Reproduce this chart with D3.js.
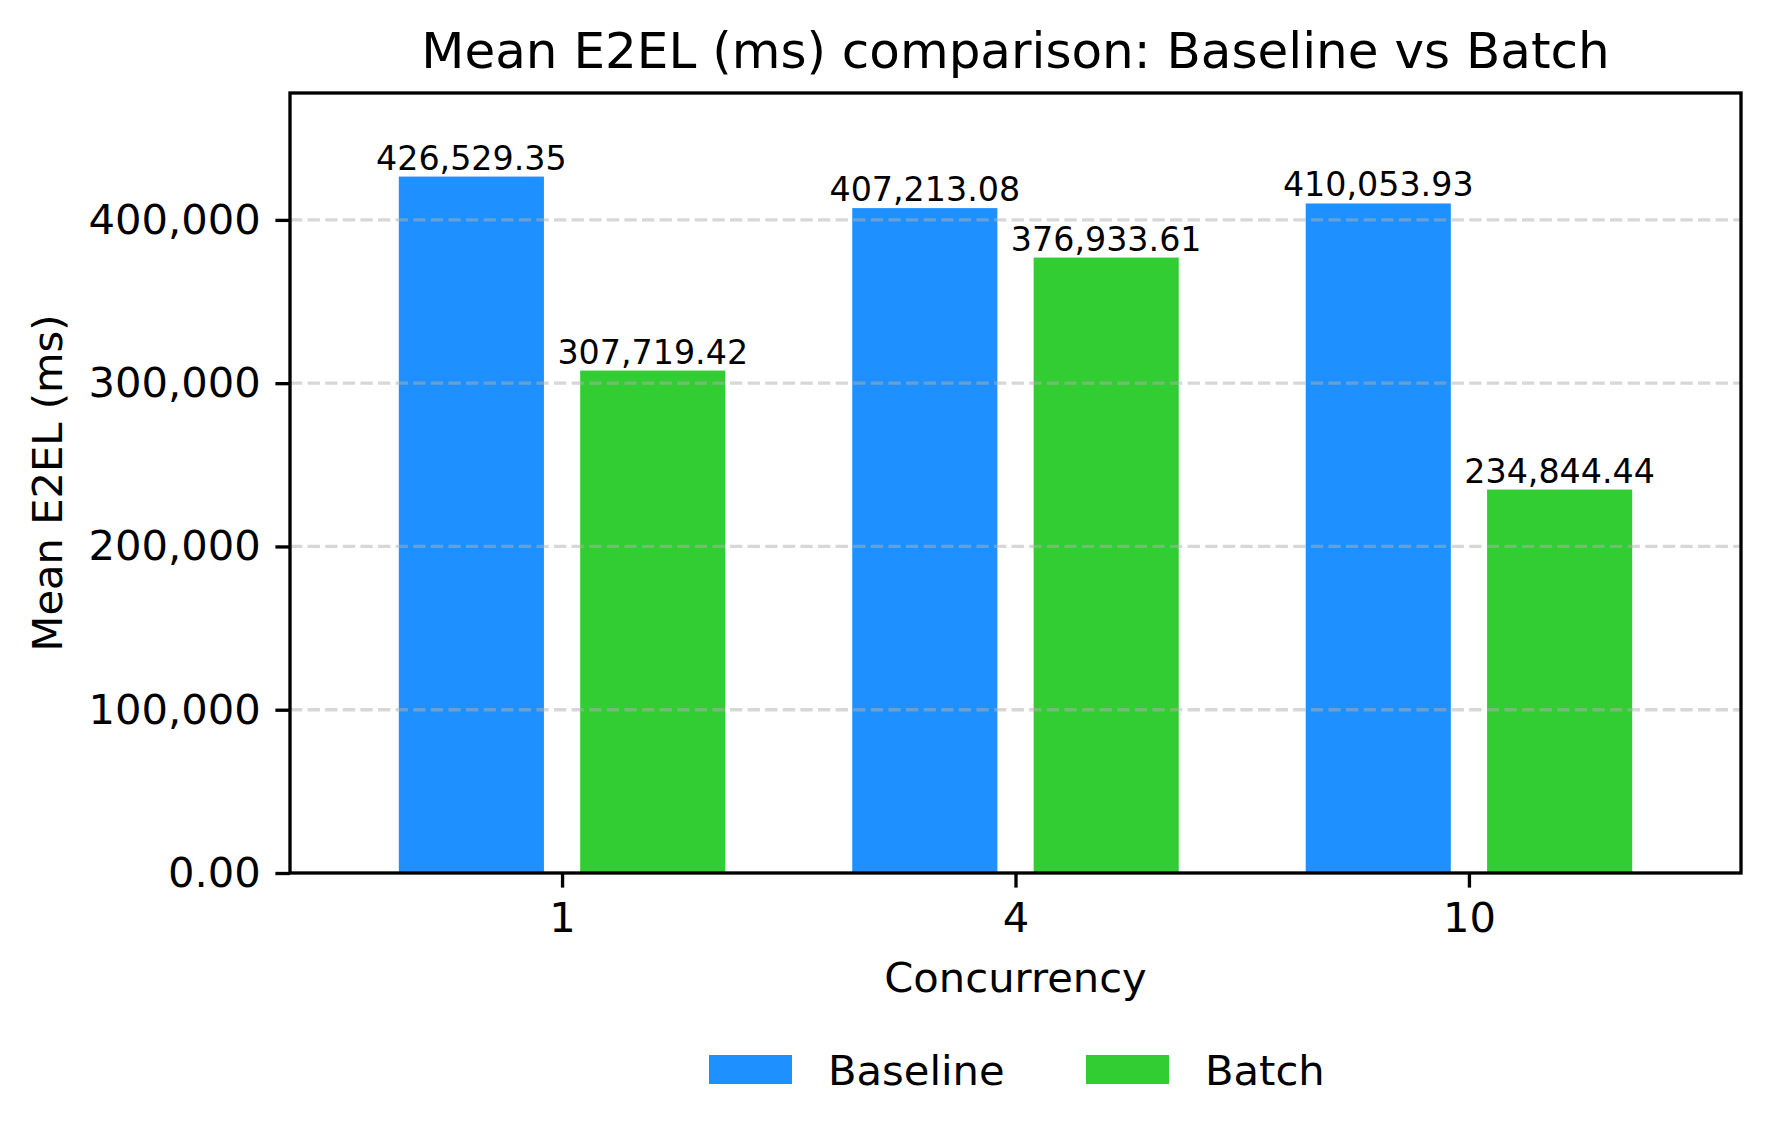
<!DOCTYPE html>
<meta charset="utf-8" />
<script src="https://d3js.org/d3.v7.min.js"></script>
<style>
  body { margin: 0; background: #fff; }
  text { font-family: "DejaVu Sans", sans-serif; fill: #000; }
</style>
<svg id="chart" width="1771" height="1140"></svg>
<script>
  // data
  var concurrency = ["1", "4", "10"];
  var seriesNames = ["Baseline", "Batch"];
  var baseline = [426529.35, 407213.08, 410053.93];
  var batch = [307719.42, 376933.61, 234844.44];
  var yTicks = [0, 100000, 200000, 300000, 400000];
  var colors = ["#1e90ff", "#32cd32"];

  var svg = d3.select("#chart");
  var margin = { left: 290, top: 93, right: 1741, bottom: 873 };
  var lw = 3.33, tickLen = 14.6;

  // x is a linear index scale so the padding matches matplotlib's auto margins
  var x = d3.scaleLinear().domain([-0.6, 2.6]).range([margin.left, margin.right]);
  var y = d3.scaleLinear().domain([0, 426529.35 * 1.12]).range([margin.bottom, margin.top]);
  var barW = x(0.32) - x(0);
  var offsets = [-0.2, 0.2];
  var series = [baseline, batch];

  // bars
  series.forEach(function (vals, s) {
    svg.append("g").selectAll("rect")
      .data(vals)
      .enter()
      .append("rect")
      .attr("x", function (d, i) { return x(i + offsets[s]) - barW / 2; })
      .attr("y", function (d) { return y(d); })
      .attr("width", barW)
      .attr("height", function (d) { return y(0) - y(d); })
      .attr("fill", colors[s]);
  });

  // grid sits on top of the bars, semi transparent
  svg.append("g").selectAll("line")
    .data(yTicks.slice(1))
    .enter()
    .append("line")
    .attr("x1", margin.left).attr("x2", margin.right)
    .attr("y1", function (d) { return y(d); })
    .attr("y2", function (d) { return y(d); })
    .attr("stroke", "#b0b0b0")
    .attr("stroke-opacity", 0.5)
    .attr("stroke-width", lw)
    .attr("stroke-dasharray", "12.3 5.3");

  // value labels
  var fmt = d3.format(",.2f");
  series.forEach(function (vals, s) {
    svg.append("g").selectAll("text")
      .data(vals)
      .enter()
      .append("text")
      .attr("x", function (d, i) { return x(i + offsets[s]); })
      .attr("y", function (d) { return y(d) - 7; })
      .attr("text-anchor", "middle")
      .style("font-size", "33.3px")
      .text(function (d) { return fmt(d); });
  });

  // frame
  svg.append("rect")
    .attr("x", margin.left).attr("y", margin.top)
    .attr("width", margin.right - margin.left)
    .attr("height", margin.bottom - margin.top)
    .attr("fill", "none").attr("stroke", "#000").attr("stroke-width", lw);

  // y axis
  var yAxis = d3.axisLeft(y)
    .tickValues(yTicks)
    .tickSize(tickLen)
    .tickPadding(14.6)
    .tickFormat(function (d) { return d === 0 ? "0.00" : d3.format(",")(d); });
  var gy = svg.append("g").attr("transform", "translate(" + margin.left + ",0)").call(yAxis);
  gy.select(".domain").remove();
  gy.selectAll(".tick line").attr("stroke-width", lw);
  gy.selectAll(".tick text").style("font-size", "41.67px").attr("font-family", null);

  // x axis
  var xAxis = d3.axisBottom(x)
    .tickValues([0, 1, 2])
    .tickSize(tickLen)
    .tickPadding(14.6)
    .tickFormat(function (d) { return concurrency[d]; });
  var gx = svg.append("g").attr("transform", "translate(0," + margin.bottom + ")").call(xAxis);
  gx.select(".domain").remove();
  gx.selectAll(".tick line").attr("stroke-width", lw);
  gx.selectAll(".tick text").style("font-size", "41.67px").attr("font-family", null);

  // title and axis labels
  svg.append("text")
    .attr("x", (margin.left + margin.right) / 2)
    .attr("y", 68)
    .attr("text-anchor", "middle")
    .style("font-size", "50px")
    .text("Mean E2EL (ms) comparison: Baseline vs Batch");

  svg.append("text")
    .attr("x", (margin.left + margin.right) / 2)
    .attr("y", 992)
    .attr("text-anchor", "middle")
    .style("font-size", "41.67px")
    .text("Concurrency");

  svg.append("text")
    .attr("transform", "translate(62," + (margin.top + margin.bottom) / 2 + ") rotate(-90)")
    .attr("text-anchor", "middle")
    .style("font-size", "41.67px")
    .text("Mean E2EL (ms)");

  // legend
  var legendX = [709, 1086];
  var legend = svg.append("g").selectAll("g")
    .data(seriesNames)
    .enter()
    .append("g")
    .attr("transform", function (d, i) { return "translate(" + legendX[i] + ",1055)"; });
  legend.append("rect")
    .attr("width", 83).attr("height", 29)
    .attr("fill", function (d, i) { return colors[i]; });
  legend.append("text")
    .attr("x", 119).attr("y", 30)
    .style("font-size", "41.67px")
    .text(function (d) { return d; });
</script>
